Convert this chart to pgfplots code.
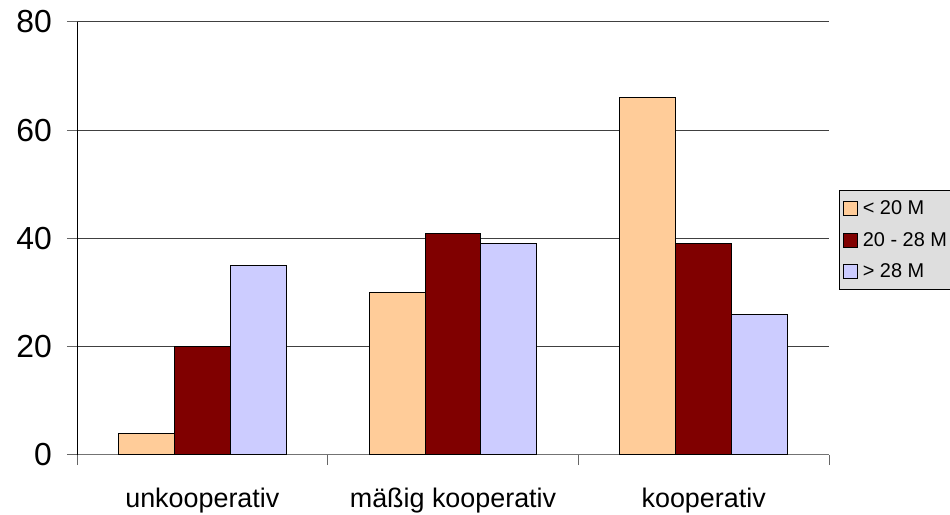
\documentclass[border=0pt]{standalone}
\usepackage{pgfplots}
\pgfplotsset{compat=1.18}
\usepackage{fontspec}
\setmainfont{Liberation Sans}
\definecolor{cA}{HTML}{FFCC99}
\definecolor{cB}{HTML}{800000}
\definecolor{cC}{HTML}{CCCCFF}
\begin{document}
\begin{tikzpicture}
\path[use as bounding box] (0,0) rectangle (950bp,515bp);
\begin{axis}[
  at={(77bp,60bp)}, anchor=south west,
  scale only axis, width=752bp, height=433bp,
  xmin=-0.5, xmax=2.5, ymin=0, ymax=80,
  ytick={0,20,40,60,80},
  xtick={-0.5,0.5,1.5,2.5},
  xticklabels={},
  extra x ticks={0,1,2},
  extra x tick labels={unkooperativ, mäßig kooperativ, kooperativ},
  extra x tick style={major tick length=0pt, grid=none,
    xticklabel style={font=\fontsize{27}{32}\selectfont, anchor=base, inner sep=0pt, yshift=-52bp}},
  axis x line*=bottom, axis y line*=left,
  x axis line style={draw=black!55, line width=1bp, -},
  y axis line style={draw=black, line width=1bp, -},
  ymajorgrids, grid style={draw=black!75, line width=1bp},
  tick align=outside,
  major tick length=10bp,
  tick style={draw=black!60, line width=1bp},
  yticklabel style={font=\fontsize{32}{36}\selectfont, inner sep=0pt, xshift=-15bp},
  /pgf/number format/assume math mode=true,
  ybar, bar width=0.223,
  legend style={at={(rel axis cs:1.0133,0.611)}, anchor=north west,
    fill=black!13, draw=black, line width=1bp,
    font=\fontsize{20}{24}\selectfont, row sep=12bp,
    inner xsep=3bp, inner ysep=8bp, cells={anchor=west}},
  legend image code/.code={\draw[#1, line width=1bp] (0bp,-7bp) rectangle (14bp,7bp);},
]
\addplot[fill=cA, draw=black, line width=1bp, bar shift=-0.223] coordinates {(0,4) (1,30) (2,66)};
\addplot[fill=cB, draw=black, line width=1bp, bar shift=0] coordinates {(0,20) (1,41) (2,39)};
\addplot[fill=cC, draw=black, line width=1bp, bar shift=0.223] coordinates {(0,35) (1,39) (2,26)};
\legend{\,< 20 M, \,20 - 28 M, \,> 28 M}
\end{axis}
\end{tikzpicture}
\end{document}
